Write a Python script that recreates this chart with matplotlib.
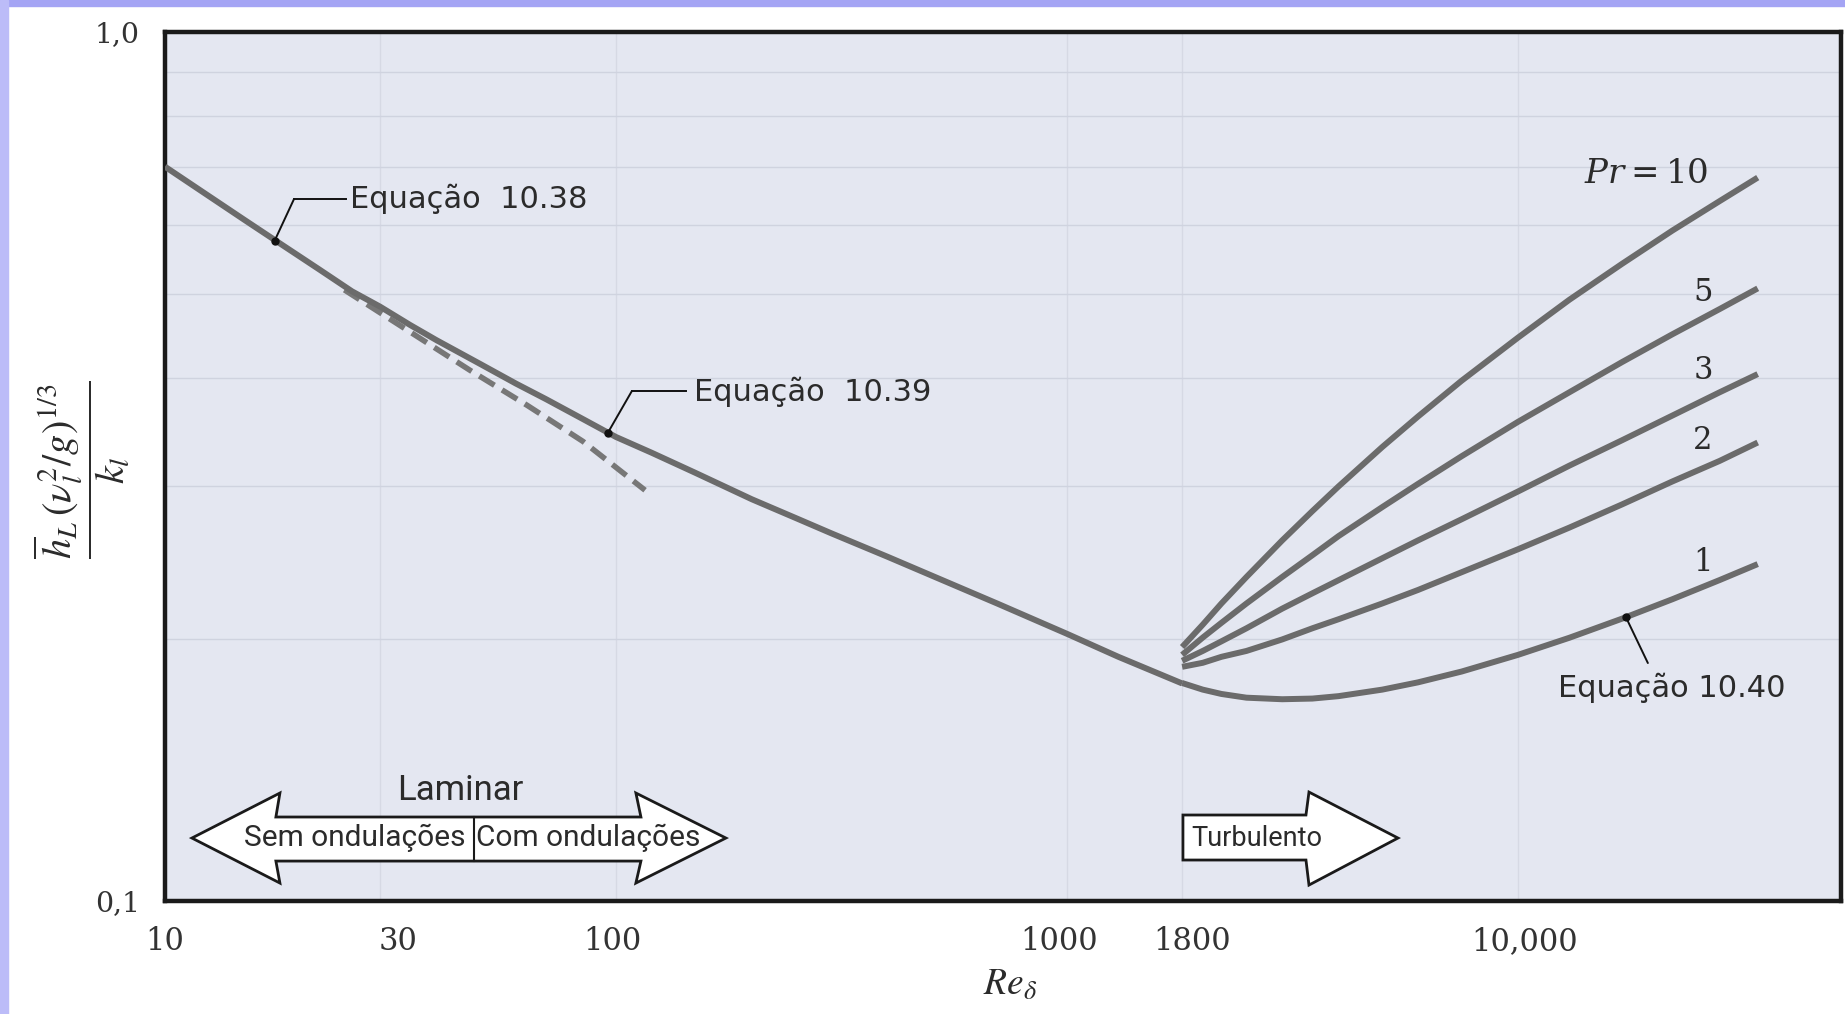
"""Filmwise condensation chart: h(nu^2/g)^(1/3)/k vs Re_delta, laminar + turbulent."""
import matplotlib

matplotlib.use("Agg")
import matplotlib.pyplot as plt
from matplotlib import font_manager
from matplotlib.patches import Polygon, Rectangle
from matplotlib.ticker import NullLocator
from matplotlib.transforms import ScaledTranslation

# --- values -----------------------------------------------------------------
# laminar film: Eq. 10.38 (wave-free) then Eq. 10.39 (wavy) up to Re = 1800
re_lam = [10, 12, 15, 18, 22, 26, 30, 35, 40, 50, 60, 70, 85, 100, 120, 150, 200,
          250, 300, 400, 500, 700, 1000, 1300, 1800]
nu_lam = [0.700, 0.657, 0.608, 0.571, 0.533, 0.503, 0.483, 0.460, 0.442, 0.415, 0.394,
          0.378, 0.358, 0.342, 0.328, 0.311, 0.290, 0.276, 0.265, 0.249, 0.237, 0.220,
          0.203, 0.191, 0.178]

# Eq. 10.38 carried on past its range (dashed)
re_dash = [25, 34.9, 47.5, 63.5, 84.5, 116]
nu_dash = [0.505, 0.452, 0.408, 0.372, 0.338, 0.297]

# turbulent film, Eq. 10.40, one curve per Prandtl number
re_turb = [1800, 2000, 2200, 2500, 3000, 3500, 4000, 5000, 6000, 7500, 10000, 13000,
           17000, 22000, 28000, 34000]
nu_pr1 = [0.1782, 0.1751, 0.1731, 0.1714, 0.1707, 0.1710, 0.1721, 0.1751, 0.1785, 0.1837,
          0.1920, 0.2009, 0.2113, 0.2225, 0.2341, 0.2442]
nu_pr2 = [0.186, 0.188, 0.191, 0.194, 0.200, 0.206, 0.211, 0.220, 0.228, 0.239, 0.254,
          0.269, 0.286, 0.304, 0.321, 0.337]
nu_pr3 = [0.189, 0.194, 0.199, 0.206, 0.217, 0.226, 0.234, 0.248, 0.260, 0.275, 0.296,
          0.317, 0.339, 0.362, 0.385, 0.404]
nu_pr5 = [0.192, 0.201, 0.209, 0.220, 0.236, 0.250, 0.263, 0.284, 0.302, 0.325, 0.356,
          0.385, 0.417, 0.449, 0.480, 0.507]
nu_pr10 = [0.196, 0.208, 0.220, 0.236, 0.260, 0.281, 0.300, 0.333, 0.361, 0.397, 0.445,
           0.492, 0.541, 0.591, 0.639, 0.680]
turb_series = [nu_pr1, nu_pr2, nu_pr3, nu_pr5, nu_pr10]

# annotation anchor points on the curves
eq38_pt = (17.5, 0.575)
eq39_pt = (96, 0.346)
eq40_pt = (17360, 0.212)

x_ticks = [10, 30, 100, 1000, 1800, 10000]
x_tick_labels = ["10", "30", "100", "1000", "1800", "10,000"]
x_label_nudge_px = [0, 18, -4, -8, 10, 7]   # printed labels sit a little off the ticks
y_ticks = [0.1, 1.0]
y_tick_labels = ["0,1", "1,0"]
y_grid = [0.2, 0.3, 0.4, 0.5, 0.6, 0.7, 0.8, 0.9]

# --- style ------------------------------------------------------------------
LINE = "#6b6b6b"
INK = "#2b2b2b"
AX_BG = "#e4e7f1"
GRID = "#cfd3df"

names = {f.name for f in font_manager.fontManager.ttflist}
if "Liberation Sans Narrow" in names:
    NARROW, SZ_SEM, SZ_TURB, SZ_LAM = "Liberation Sans Narrow", 24, 22, 26
else:
    NARROW, SZ_SEM, SZ_TURB, SZ_LAM = "Roboto", 21.5, 19.5, 25

fig = plt.figure(figsize=(18.45, 10.14), dpi=100)
fig.patch.set_facecolor("white")
# lavender frame of the original slide
fig.patches.append(Rectangle((0, 1 - 6 / 1014), 1, 6 / 1014, transform=fig.transFigure,
                             color="#a4a4f4", zorder=0))
fig.patches.append(Rectangle((0, 0), 8 / 1845, 1, transform=fig.transFigure,
                             color="#bcbcf8", zorder=0))

ax = fig.add_axes([0.0894, 0.1114, 0.9084, 0.857])
ax.set_facecolor(AX_BG)
ax.set_xscale("log")
ax.set_yscale("log")
ax.set_xlim(10, 52000)
ax.set_ylim(0.1, 1.0)

ax.set_xticks(x_ticks)
ax.set_xticklabels(x_tick_labels, fontfamily="DejaVu Serif", fontsize=22, color="#333333")
ax.xaxis.set_minor_locator(NullLocator())
ax.set_yticks(y_ticks)
ax.set_yticklabels(y_tick_labels, fontfamily="DejaVu Serif", fontsize=20.5, color="#333333")
ax.set_yticks(y_grid, minor=True)
ax.yaxis.set_minor_formatter(plt.NullFormatter())
ax.tick_params(which="both", length=0)
ax.tick_params(axis="x", pad=18)
ax.tick_params(axis="y", pad=18)
for lab, dx in zip(ax.get_xticklabels(), x_label_nudge_px):
    lab.set_transform(lab.get_transform() + ScaledTranslation(dx / 100, 0, fig.dpi_scale_trans))
ax.grid(which="minor", axis="y", color=GRID, lw=1.0)
ax.grid(which="major", axis="x", color="#d6d9e4", lw=1.0)
ax.set_axisbelow(True)
for sp in ax.spines.values():
    sp.set_linewidth(3.2)
    sp.set_color("#1a1a1a")

# curves
ax.plot(re_lam, nu_lam, color=LINE, lw=4.3, solid_capstyle="butt", zorder=3)
ax.plot(re_dash, nu_dash, color="#777777", lw=4.0, ls=(0, (3.2, 1.6)), zorder=2)
for nu in turb_series:
    ax.plot(re_turb, nu, color=LINE, lw=4.3, solid_capstyle="butt", zorder=3)


# leader lines + labels for the equations
def leader(pt, elbow, end=None):
    ax.annotate("", xy=pt, xycoords="data", xytext=elbow, textcoords="axes fraction",
                arrowprops=dict(arrowstyle="-", lw=1.4, color="#111111", shrinkA=0, shrinkB=0))
    if end is not None:
        ax.plot([elbow[0], end[0]], [elbow[1], end[1]], color="#111111", lw=1.4,
                transform=ax.transAxes)
    ax.plot(*pt, "o", ms=5, color="#111111", zorder=4)


leader(eq38_pt, (0.0770, 0.8078), (0.1080, 0.8078))
ax.text(0.1104, 0.8078, "Equação  10.38", transform=ax.transAxes, fontsize=22,
        fontfamily="DejaVu Sans", color=INK, ha="left", va="center")
leader(eq39_pt, (0.2786, 0.5869), (0.3109, 0.5869))
ax.text(0.3156, 0.5860, "Equação  10.39", transform=ax.transAxes, fontsize=22,
        fontfamily="DejaVu Sans", color=INK, ha="left", va="center")
leader(eq40_pt, (0.8848, 0.2739))
ax.text(0.8992, 0.2451, "Equação 10.40", transform=ax.transAxes, fontsize=22,
        fontfamily="DejaVu Sans", color=INK, ha="center", va="center")

# Prandtl labels
ax.text(0.8837, 0.8377, r"$Pr = 10$", transform=ax.transAxes, fontsize=24.5,
        math_fontfamily="dejavuserif", color=INK, ha="center", va="center")
for lab, fy in zip(["5", "3", "2", "1"], [0.7008, 0.6110, 0.5305, 0.3901]):
    ax.text(0.9177, fy, lab, transform=ax.transAxes, fontsize=22,
            fontfamily="DejaVu Serif", color=INK, ha="center", va="center")

# regime arrows (axes-fraction geometry)
lam_arrow = [(0.0161, 0.0725), (0.0686, 0.1243), (0.0662, 0.0967), (0.2840, 0.0967),
             (0.2810, 0.1243), (0.3347, 0.0725), (0.2810, 0.0207), (0.2840, 0.0460),
             (0.0662, 0.0460), (0.0686, 0.0207)]
ax.add_patch(Polygon(lam_arrow, closed=True, transform=ax.transAxes, facecolor="white",
                     edgecolor="#1a1a1a", lw=2, zorder=4))
ax.plot([0.1844, 0.1844], [0.0460, 0.0967], color="#1a1a1a", lw=1.5,
        transform=ax.transAxes, zorder=5)
ax.text(0.1760, 0.1277, "Laminar", transform=ax.transAxes, fontsize=SZ_LAM,
        fontfamily=NARROW, color=INK, ha="center", va="center", zorder=5)
ax.text(0.1134, 0.0725, "Sem ondulações", transform=ax.transAxes, fontsize=SZ_SEM,
        fontfamily=NARROW, color=INK, ha="center", va="center", zorder=5)
ax.text(0.2524, 0.0725, "Com ondulações", transform=ax.transAxes, fontsize=SZ_SEM,
        fontfamily=NARROW, color=INK, ha="center", va="center", zorder=5)

turb_arrow = [(0.6074, 0.0990), (0.6808, 0.0990), (0.6826, 0.1254), (0.7357, 0.0725),
              (0.6826, 0.0184), (0.6808, 0.0472), (0.6074, 0.0472)]
ax.add_patch(Polygon(turb_arrow, closed=True, transform=ax.transAxes, facecolor="white",
                     edgecolor="#1a1a1a", lw=2, zorder=4))
ax.text(0.6516, 0.0725, "Turbulento", transform=ax.transAxes, fontsize=SZ_TURB,
        fontfamily=NARROW, color=INK, ha="center", va="center", zorder=5)

# axis titles
fig.text(0.0444, 0.5365, r"$\dfrac{\overline{h}_L\,(\nu_l^{2}/g)^{1/3}}{k_l}$", rotation=90,
         ha="center", va="center", fontsize=29, math_fontfamily="stix", color=INK)
fig.text(0.5474, 0.0286, r"$Re_\delta$", ha="center", va="center", fontsize=27,
         math_fontfamily="stix", color=INK)

fig.savefig("out.png", dpi=100)
